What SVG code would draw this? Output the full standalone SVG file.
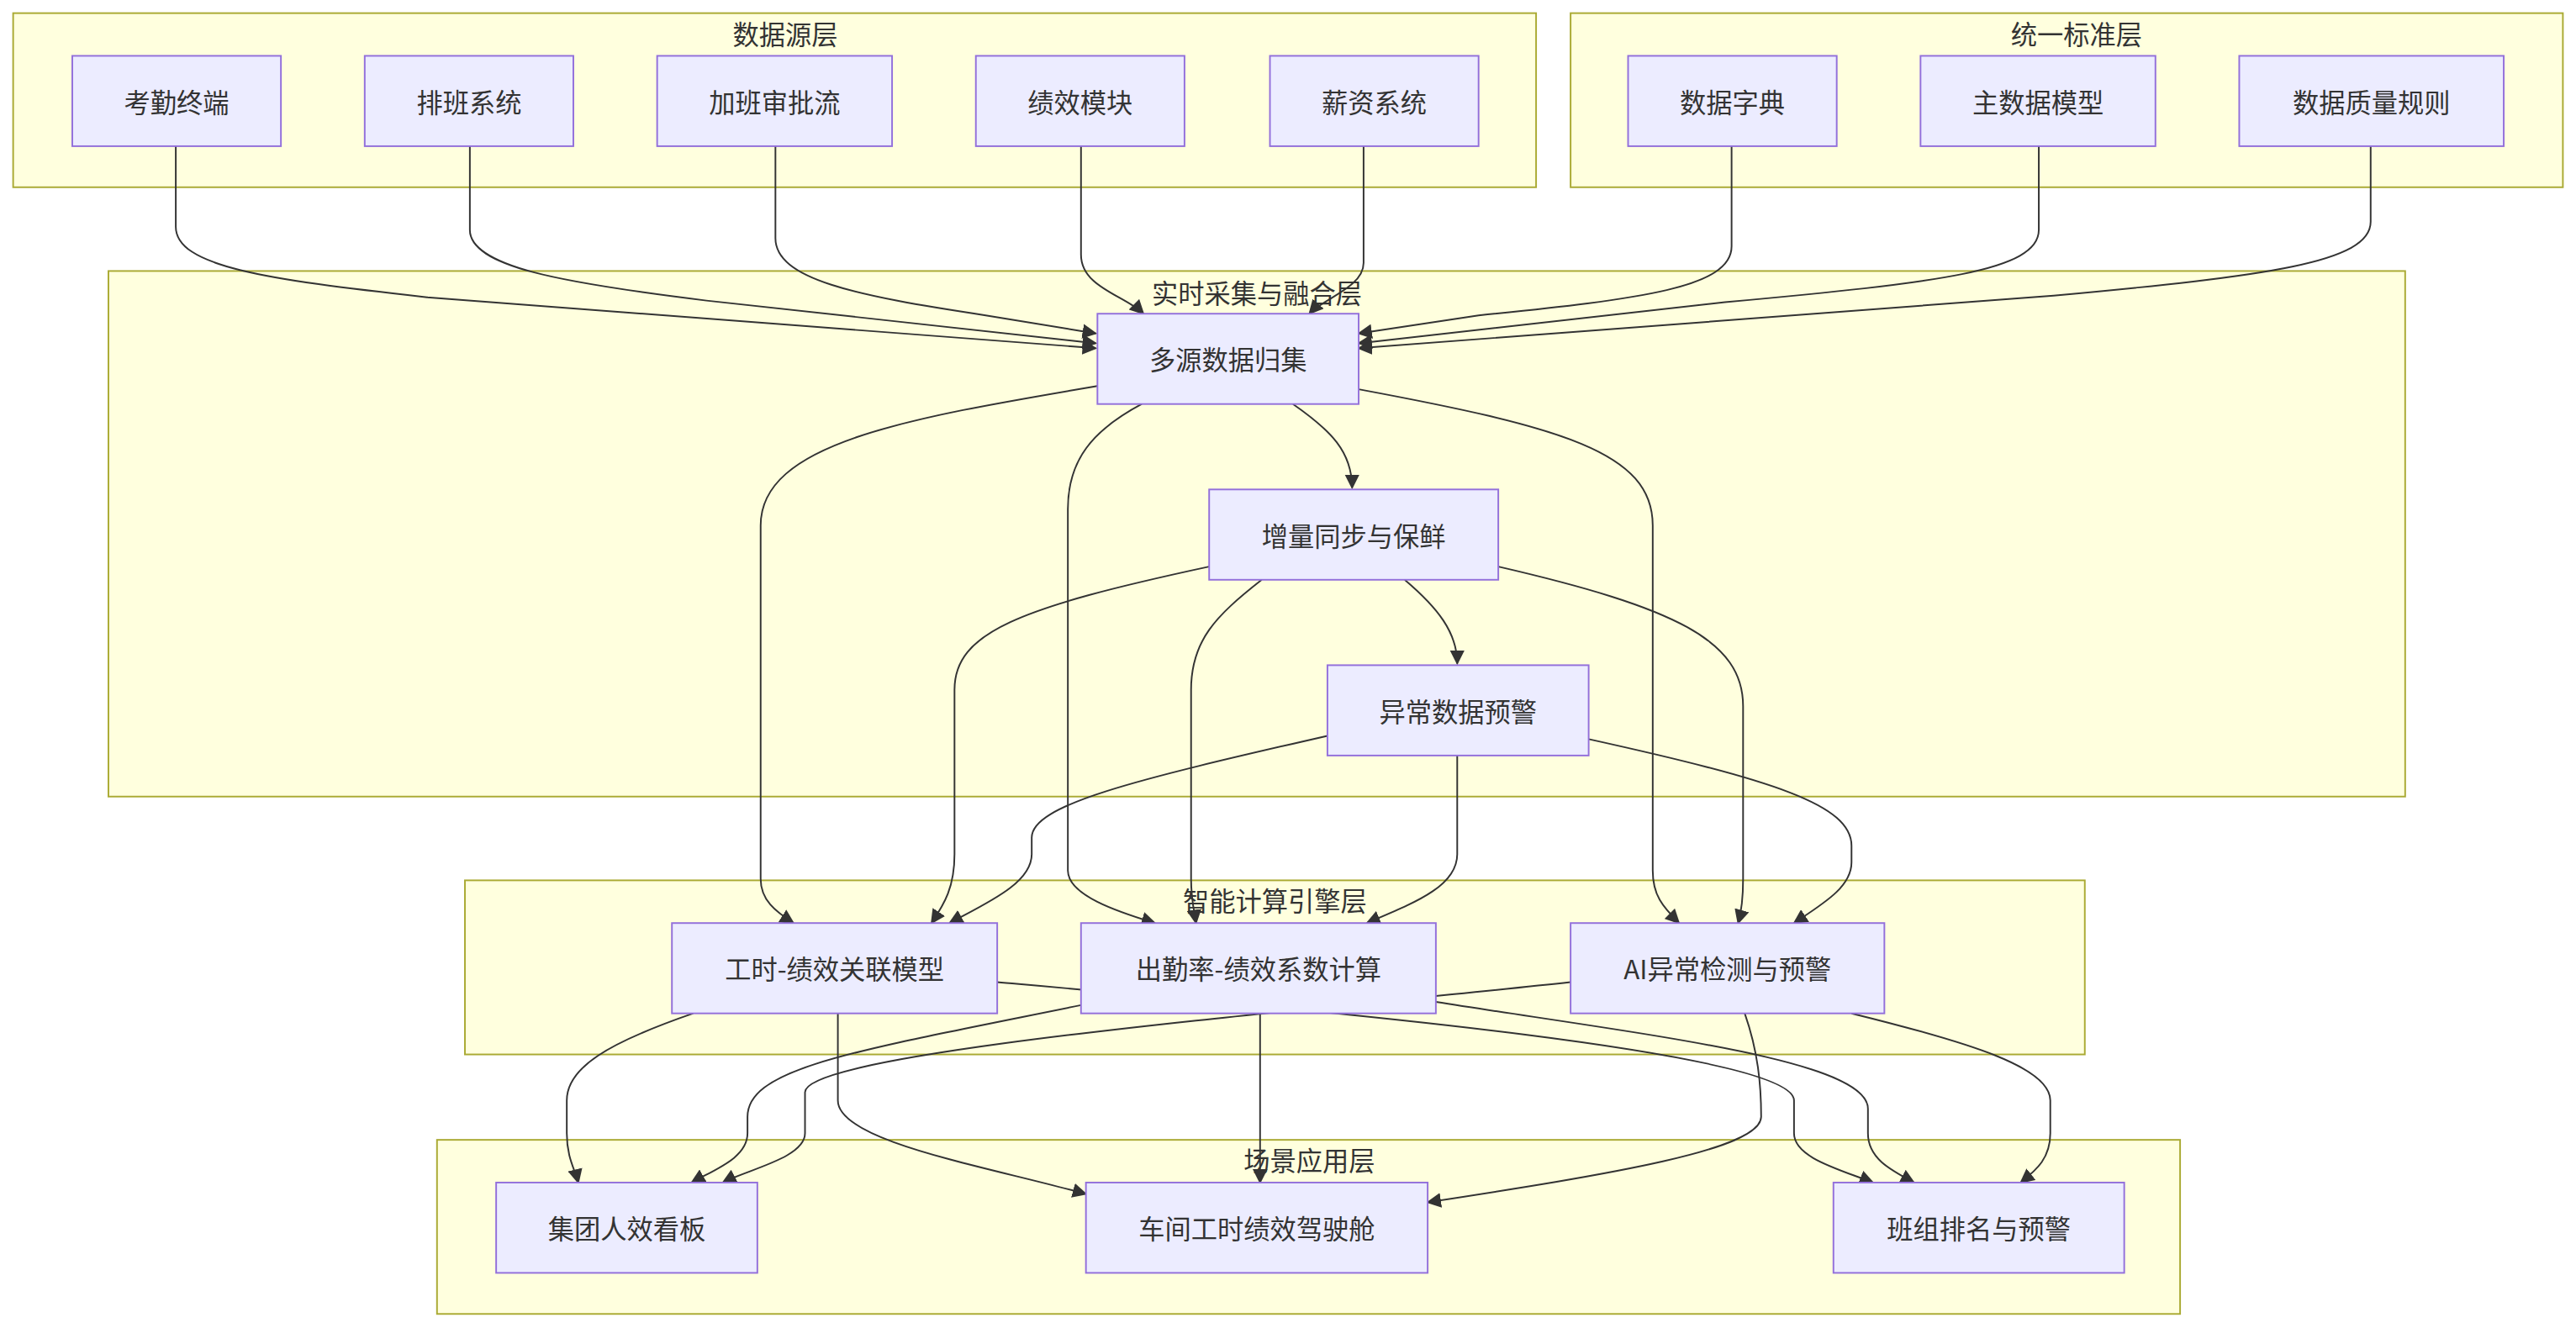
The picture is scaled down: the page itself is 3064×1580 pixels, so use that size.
<svg xmlns="http://www.w3.org/2000/svg" width="3064" height="1580" viewBox="0 0 3064 1580">
<style>
.c{fill:#ffffde;stroke:#aaaa33;stroke-width:1}
.n rect{fill:#ECECFF;stroke:#9370DB;stroke-width:1}
text{font-family:"Noto Sans CJK SC","Noto Sans",sans-serif;font-size:16px;fill:#333;text-anchor:middle;dominant-baseline:central}
.e path{fill:none;stroke:#333;stroke-width:1}
</style>
<defs>
<marker id="a" markerUnits="userSpaceOnUse" viewBox="0 0 10 10" refX="9" refY="5" markerWidth="9" markerHeight="9" orient="auto"><path d="M0,0L10,5L0,10z" fill="#333"/></marker>
</defs>
<rect width="3064" height="1580" fill="#fff"/>
<g transform="scale(1.9541)">
<g id="clusters">
<g id="c1"><rect class="c" x="8" y="8" width="927" height="106"/><text x="478" y="20">数据源层</text></g>
<g id="c2"><rect class="c" x="956" y="8" width="604" height="106"/><text x="1264" y="20">统一标准层</text></g>
<g id="c3"><rect class="c" x="66" y="165" width="1398" height="320"/><text x="765" y="178">实时采集与融合层</text></g>
<g id="c4"><rect class="c" x="283" y="536" width="986" height="106"/><text x="776" y="548">智能计算引擎层</text></g>
<g id="c5"><rect class="c" x="266" y="694" width="1061" height="106"/><text x="797" y="706">场景应用层</text></g>
</g>
<g class="e" id="edges" marker-end="url(#a)">
<path d="M107,89V138C107,162 160,170 260,181L667,212" marker-end="url(#a)"/>
<path d="M286,89V140C286,162 340,172 430,183L667,209" marker-end="url(#a)"/>
<path d="M472,89V145C472,170 520,180 600,192L667,203" marker-end="url(#a)"/>
<path d="M658,89V155C658,175 685,180 696,191" marker-end="url(#a)"/>
<path d="M830,89V160C830,175 805,182 797,191" marker-end="url(#a)"/>
<path d="M1054,89V150C1054,175 1000,182 900,192L827,203" marker-end="url(#a)"/>
<path d="M1241,89V140C1241,165 1180,172 1050,184L827,209" marker-end="url(#a)"/>
<path d="M1443,89V135C1443,160 1380,168 1250,180L827,212" marker-end="url(#a)"/>
<path d="M668,235C550,255 463,270 463,320V535C463,548 472,555 483,562" marker-end="url(#a)"/>
<path d="M695,246C665,262 650,280 650,310V530C650,545 680,555 703,562" marker-end="url(#a)"/>
<path d="M787,246C810,262 823,275 823,297" marker-end="url(#a)"/>
<path d="M827,237C950,260 1006,275 1006,320V530C1006,545 1012,552 1022,562" marker-end="url(#a)"/>
<path d="M736,345C620,370 581,385 581,420V520C581,540 575,550 567,562" marker-end="url(#a)"/>
<path d="M768,353C740,375 725,390 725,420V535C725,548 727,555 728,562" marker-end="url(#a)"/>
<path d="M855,353C875,370 887,385 887,404" marker-end="url(#a)"/>
<path d="M912,345C1020,370 1061,390 1061,430V535C1061,548 1060,555 1058,562" marker-end="url(#a)"/>
<path d="M808,448C690,475 628,490 628,510V520C628,538 600,550 578,562" marker-end="url(#a)"/>
<path d="M887,460V520C887,540 860,550 832,562" marker-end="url(#a)"/>
<path d="M967,450C1080,475 1127,490 1127,515V525C1127,540 1110,550 1092,562" marker-end="url(#a)"/>
<path d="M422,617C370,635 345,650 345,670V690C345,705 350,712 352,720" marker-end="url(#a)"/>
<path d="M510,617V670C510,695 600,710 661,727" marker-end="url(#a)"/>
<path d="M607,598C800,615 1092,640 1092,670V690C1092,705 1120,712 1140,720" marker-end="url(#a)"/>
<path d="M658,612C520,640 455,650 455,680V690C455,705 435,712 421,720" marker-end="url(#a)"/>
<path d="M767,617V720" marker-end="url(#a)"/>
<path d="M874,610C1000,630 1137,645 1137,675V690C1137,705 1150,712 1165,720" marker-end="url(#a)"/>
<path d="M956,598C800,615 490,640 490,665V690C490,705 455,712 440,720" marker-end="url(#a)"/>
<path d="M1062,617C1070,640 1072,660 1072,680C1072,700 980,715 869,732" marker-end="url(#a)"/>
<path d="M1127,617C1200,635 1248,650 1248,670V690C1248,705 1240,712 1230,720" marker-end="url(#a)"/>
</g>
<g class="n" id="n1"><rect x="44" y="34" width="127" height="55"/><text x="107.5" y="61.5">考勤终端</text></g>
<g class="n" id="n2"><rect x="222" y="34" width="127" height="55"/><text x="285.5" y="61.5">排班系统</text></g>
<g class="n" id="n3"><rect x="400" y="34" width="143" height="55"/><text x="471.5" y="61.5">加班审批流</text></g>
<g class="n" id="n4"><rect x="594" y="34" width="127" height="55"/><text x="657.5" y="61.5">绩效模块</text></g>
<g class="n" id="n5"><rect x="773" y="34" width="127" height="55"/><text x="836.5" y="61.5">薪资系统</text></g>
<g class="n" id="n6"><rect x="991" y="34" width="127" height="55"/><text x="1054.5" y="61.5">数据字典</text></g>
<g class="n" id="n7"><rect x="1169" y="34" width="143" height="55"/><text x="1240.5" y="61.5">主数据模型</text></g>
<g class="n" id="n8"><rect x="1363" y="34" width="161" height="55"/><text x="1443.5" y="61.5">数据质量规则</text></g>
<g class="n" id="n9"><rect x="668" y="191" width="159" height="55"/><text x="747.5" y="218.5">多源数据归集</text></g>
<g class="n" id="n10"><rect x="736" y="298" width="176" height="55"/><text x="824" y="325.5">增量同步与保鲜</text></g>
<g class="n" id="n11"><rect x="808" y="405" width="159" height="55"/><text x="887.5" y="432.5">异常数据预警</text></g>
<g class="n" id="n12"><rect x="409" y="562" width="198" height="55"/><text x="508" y="589.5">工时-绩效关联模型</text></g>
<g class="n" id="n13"><rect x="658" y="562" width="216" height="55"/><text x="766" y="589.5">出勤率-绩效系数计算</text></g>
<g class="n" id="n14"><rect x="956" y="562" width="191" height="55"/><text x="1051.5" y="589.5">AI异常检测与预警</text></g>
<g class="n" id="n15"><rect x="302" y="720" width="159" height="55"/><text x="381.5" y="747.5">集团人效看板</text></g>
<g class="n" id="n16"><rect x="661" y="720" width="208" height="55"/><text x="765" y="747.5">车间工时绩效驾驶舱</text></g>
<g class="n" id="n17"><rect x="1116" y="720" width="177" height="55"/><text x="1204.5" y="747.5">班组排名与预警</text></g>
</g>
</svg>
